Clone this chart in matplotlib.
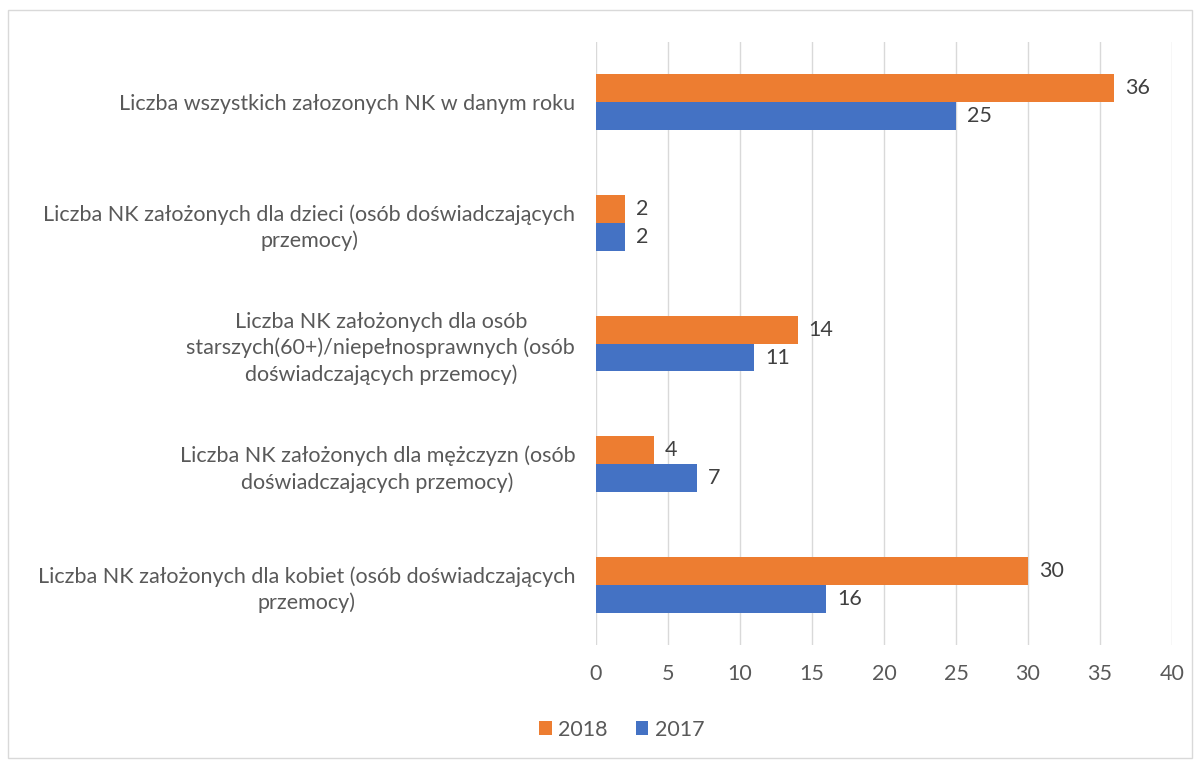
import matplotlib
matplotlib.use("Agg")
import matplotlib.pyplot as plt
from matplotlib.patches import Rectangle
import numpy as np

plt.rcParams["font.family"] = ["Lato", "DejaVu Sans"]

# kategorie od dołu do góry
categories = [
    "Liczba NK założonych dla kobiet (osób doświadczających\nprzemocy)",
    "Liczba NK założonych dla mężczyzn (osób\ndoświadczających przemocy)",
    "Liczba NK założonych dla osób\nstarszych(60+)/niepełnosprawnych (osób\ndoświadczających przemocy)",
    "Liczba NK założonych dla dzieci (osób doświadczających\nprzemocy)",
    "Liczba wszystkich załozonych NK w danym roku",
]
values_2018 = [30, 4, 14, 2, 36]
values_2017 = [16, 7, 11, 2, 25]
years = ["2018", "2017"]

ORANGE = "#ED7D31"
BLUE = "#4472C4"
TEXT = "#595959"
GRID = "#D9D9D9"
FS = 15.5

fig = plt.figure(figsize=(12, 7.6), dpi=100)
ax = fig.add_axes([0.4967, 0.1513, 0.48, 0.7934])

y = np.arange(len(categories))
h = 0.232
b18 = ax.barh(y + h / 2, values_2018, height=h, color=ORANGE, label=years[0], zorder=3)
b17 = ax.barh(y - h / 2, values_2017, height=h, color=BLUE, label=years[1], zorder=3)

for bars in (b18, b17):
    ax.bar_label(bars, padding=8, fontsize=FS, color="#404040")

ax.set_xlim(0, 40)
ax.set_xticks(range(0, 41, 5))
ax.set_ylim(-0.5, len(categories) - 0.5)
ax.set_yticks(y)
ax.set_yticklabels(categories)
for lab in ax.get_yticklabels():
    lab.set_multialignment("center")
    lab.set_linespacing(1.35)

ax.tick_params(axis="both", length=0, labelsize=FS, colors=TEXT)
ax.tick_params(axis="x", pad=14)
ax.tick_params(axis="y", pad=15)
ax.grid(axis="x", color=GRID, linewidth=1, zorder=0)
for s in ax.spines.values():
    s.set_visible(False)

fig.legend(handles=[b18, b17], labels=years, loc="center", bbox_to_anchor=(0.518, 0.04),
           ncol=2, frameon=False, fontsize=FS, labelcolor=TEXT,
           handlelength=0.6, handleheight=0.6, handletextpad=0.3, columnspacing=1.3)

fig.patches.append(Rectangle((0.007, 0.003), 0.986, 0.984, transform=fig.transFigure,
                             fill=False, edgecolor=GRID, linewidth=1))

fig.savefig("out.png", dpi=100)
